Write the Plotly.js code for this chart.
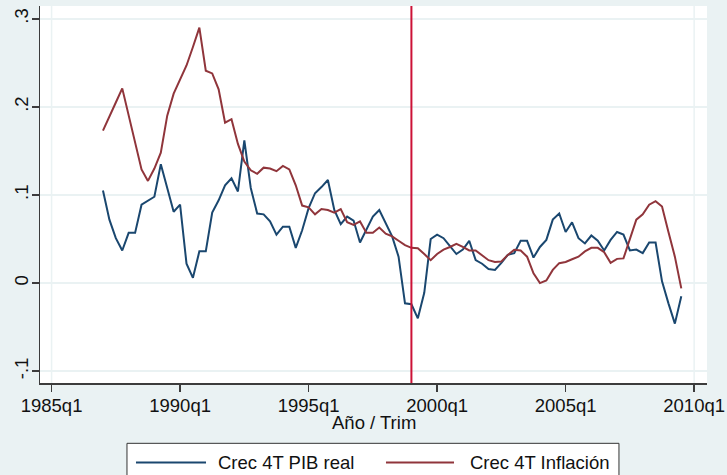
<!DOCTYPE html>
<html>
<head>
<meta charset="utf-8">
<script src="https://cdn.plot.ly/plotly-3.0.1.min.js"></script>
<style>html,body{margin:0;padding:0;background:#eaf2f3;}#chart{width:727px;height:475px;}</style>
</head>
<body>
<div id="chart"></div>
<script>
// Quarterly series starting 1987q1
const startYear = 1987;
const pibReal = [
  0.105, 0.072, 0.051, 0.037, 0.057, 0.057, 0.089, 0.094, 0.098, 0.135,
  0.108, 0.081, 0.089, 0.022, 0.006, 0.036, 0.036, 0.080, 0.094, 0.111,
  0.119, 0.104, 0.162, 0.108, 0.079, 0.078, 0.070, 0.055, 0.064, 0.064,
  0.040, 0.060, 0.085, 0.102, 0.109, 0.117, 0.083, 0.067, 0.0755, 0.071,
  0.046, 0.061, 0.0755, 0.083, 0.068, 0.053, 0.030, -0.023, -0.024, -0.040,
  -0.011, 0.050, 0.055, 0.051, 0.042, 0.033, 0.038, 0.048, 0.026, 0.022,
  0.016, 0.015, 0.023, 0.032, 0.034, 0.048, 0.048, 0.029, 0.041, 0.049,
  0.072, 0.079, 0.058, 0.069, 0.051, 0.045, 0.054, 0.048, 0.037, 0.049,
  0.058, 0.055, 0.037, 0.038, 0.034, 0.046, 0.046, 0.002, -0.023, -0.046,
  -0.015
];
const inflacion = [
  0.173, 0.190, 0.205, 0.221, 0.190, 0.160, 0.129, 0.116, 0.130, 0.148,
  0.190, 0.215, 0.232, 0.247, 0.268, 0.290, 0.241, 0.238, 0.220, 0.182,
  0.186, 0.158, 0.138, 0.128, 0.124, 0.131, 0.130, 0.127, 0.133, 0.129,
  0.111, 0.088, 0.086, 0.078, 0.084, 0.083, 0.080, 0.084, 0.069, 0.066,
  0.070, 0.057, 0.057, 0.063, 0.056, 0.053, 0.048, 0.043, 0.040, 0.0396,
  0.033, 0.026, 0.033, 0.038, 0.041, 0.0445, 0.041, 0.037, 0.037, 0.032,
  0.026, 0.024, 0.0245, 0.032, 0.0377, 0.037, 0.030, 0.011, 0.000, 0.003,
  0.015, 0.0226, 0.024, 0.027, 0.030, 0.036, 0.040, 0.040, 0.035, 0.023,
  0.0275, 0.028, 0.049, 0.072, 0.078, 0.089, 0.093, 0.087, 0.058, 0.030,
  -0.006
];
const xTickVals = [1985, 1990, 1995, 2000, 2005, 2010];
const xTickText = ['1985q1', '1990q1', '1995q1', '2000q1', '2005q1', '2010q1'];
const yTickVals = [0.3, 0.2, 0.1, 0, -0.1];
const yTickText = ['.3', '.2', '.1', '0', '-.1'];
const breakDate = 1999.0;
const seriesNames = ['Crec 4T PIB real', 'Crec 4T Inflación'];
const xTitle = 'Año / Trim';

const dates = pibReal.map((_, i) => startYear + i * 0.25);

const font = 'Liberation Sans, Arial, sans-serif';
const blue = '#1a476f';
const red = '#90353b';
const gridCol = '#eaf2f3';
const axisCol = '#3c3c3c';

const traces = [
  {x: dates, y: pibReal, type: 'scatter', mode: 'lines', name: seriesNames[0],
   line: {color: blue, width: 2}, showlegend: false},
  {x: dates, y: inflacion, type: 'scatter', mode: 'lines', name: seriesNames[1],
   line: {color: red, width: 2}, showlegend: false}
];

const shapes = [
  {type: 'line', xref: 'x', yref: 'paper', x0: xTickVals[0], x1: xTickVals[0], y0: 0, y1: 1,
   line: {color: gridCol, width: 1.5}, layer: 'below'},
  {type: 'line', xref: 'x', yref: 'paper', x0: xTickVals[5], x1: xTickVals[5], y0: 0, y1: 1,
   line: {color: gridCol, width: 1.5}, layer: 'below'},
  {type: 'line', xref: 'x', yref: 'paper', x0: breakDate, x1: breakDate, y0: 0, y1: 1,
   line: {color: '#cc1236', width: 2}},
  // legend box
  {type: 'rect', xref: 'paper', yref: 'paper', x0: 0.1304, x1: 0.868, y0: -0.28, y1: -0.16,
   line: {color: '#333333', width: 1}, fillcolor: '#ffffff'},
  {type: 'line', xref: 'paper', yref: 'paper', x0: 0.1439, x1: 0.2489, y0: -0.2107, y1: -0.2107,
   line: {color: blue, width: 2}},
  {type: 'line', xref: 'paper', yref: 'paper', x0: 0.5187, x1: 0.6207, y0: -0.2107, y1: -0.2107,
   line: {color: red, width: 2}}
];

const annotations = [
  {xref: 'paper', yref: 'paper', x: 0.2639, y: -0.2107, xanchor: 'left', yanchor: 'middle',
   text: seriesNames[0], showarrow: false, font: {family: font, size: 18.5, color: '#111'}},
  {xref: 'paper', yref: 'paper', x: 0.6417, y: -0.2107, xanchor: 'left', yanchor: 'middle',
   text: seriesNames[1], showarrow: false, font: {family: font, size: 18.5, color: '#111'}},
  {xref: 'paper', yref: 'paper', x: 0.5, y: -0.104, xanchor: 'center', yanchor: 'middle',
   text: xTitle, showarrow: false, font: {family: font, size: 18.5, color: '#111'}}
];

const layout = {
  width: 727, height: 475,
  margin: {l: 40, r: 20, t: 6, b: 92},
  paper_bgcolor: '#eaf2f3',
  plot_bgcolor: '#ffffff',
  font: {family: font, size: 18.5, color: '#111'},
  showlegend: false,
  xaxis: {
    range: [1984.55, 2010.5],
    tickvals: xTickVals, ticktext: xTickText,
    showgrid: false, zeroline: false,
    showline: true, linecolor: axisCol, linewidth: 1.5,
    ticks: 'outside', ticklen: 7, tickcolor: axisCol, tickwidth: 1.5,
    ticklabelstandoff: -2,
    tickfont: {family: font, size: 18.5, color: '#111'},
    automargin: false
  },
  yaxis: {
    range: [-0.1134, 0.3145],
    tickvals: yTickVals, ticktext: yTickText,
    tickangle: -90,
    ticklabelstandoff: -4,
    showgrid: true, gridcolor: gridCol, gridwidth: 2,
    zeroline: false,
    showline: true, linecolor: axisCol, linewidth: 1.5,
    ticks: 'outside', ticklen: 7, tickcolor: axisCol, tickwidth: 1.5,
    tickfont: {family: font, size: 18.5, color: '#111'},
    automargin: false
  },
  shapes: shapes,
  annotations: annotations
};

Plotly.newPlot('chart', traces, layout, {staticPlot: true, displayModeBar: false});
</script>
</body>
</html>
